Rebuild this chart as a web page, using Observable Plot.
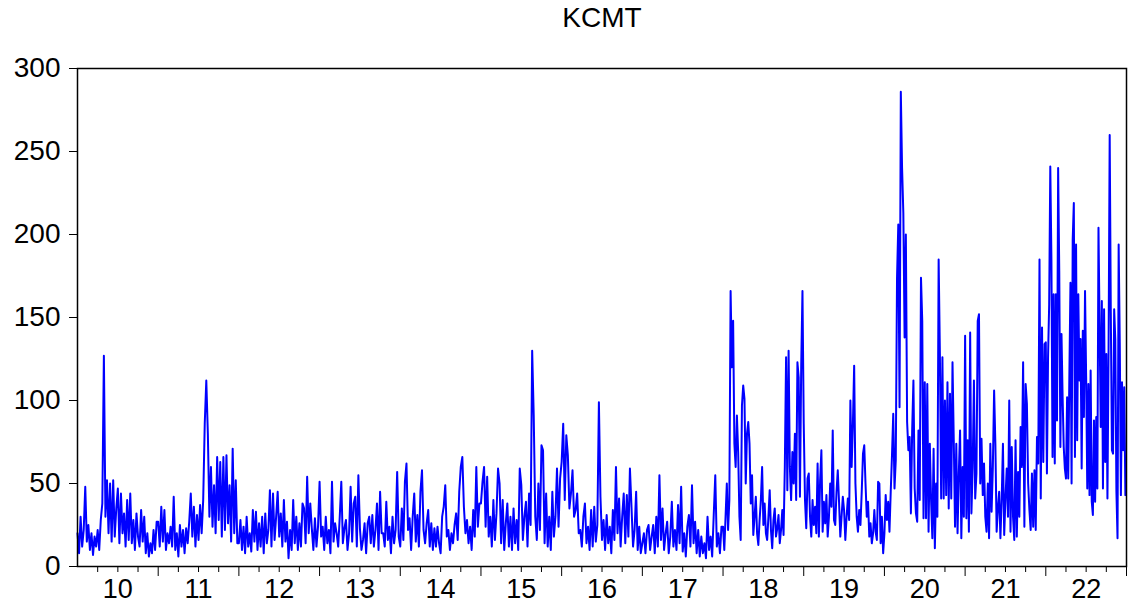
<!DOCTYPE html>
<html>
<head>
<meta charset="utf-8">
<script src="https://cdn.jsdelivr.net/npm/d3@7"></script>
<script src="https://cdn.jsdelivr.net/npm/@observablehq/plot@0.6"></script>
<style>
  html, body { margin: 0; padding: 0; background: #ffffff; }
  #chart { width: 1130px; height: 610px; }
</style>
</head>
<body>
<div id="chart"></div>
<script>
const title = "KCMT";
const years = [2010, 2011, 2012, 2013, 2014, 2015, 2016, 2017, 2018, 2019, 2020, 2021, 2022];
const yearLabels = ["10", "11", "12", "13", "14", "15", "16", "17", "18", "19", "20", "21", "22"];
const yTicks = [0, 50, 100, 150, 200, 250, 300];

const v2010 = [20, 8, 30, 12, 22, 48, 15, 25, 10, 20, 7, 18, 12, 22, 10, 28, 38, 127, 30, 52, 20, 50, 15, 52, 18, 35, 47, 14, 44, 20, 32, 12, 40, 16, 44, 14, 28, 10, 32, 18, 12, 34, 15, 30, 8, 20, 6, 14, 8, 22, 10, 27];
const v2011 = [27, 12, 36, 15, 34, 10, 20, 14, 24, 12, 42, 10, 20, 6, 25, 12, 22, 8, 23, 14, 27, 44, 18, 36, 12, 31, 16, 37, 20, 40, 86, 112, 80, 30, 60, 24, 49, 20, 66, 28, 63, 18, 66, 22, 67, 26, 49, 15, 71, 20, 52, 14];
const v2012 = [14, 28, 10, 24, 8, 30, 12, 20, 9, 34, 15, 33, 10, 26, 12, 30, 8, 32, 14, 22, 46, 12, 44, 16, 30, 45, 18, 32, 12, 40, 15, 27, 5, 22, 10, 40, 14, 30, 10, 26, 12, 38, 35, 14, 54, 20, 38, 23, 10, 29, 12, 24];
const v2013 = [51, 18, 24, 10, 30, 14, 22, 8, 51, 15, 26, 20, 12, 30, 51, 14, 23, 28, 10, 20, 48, 15, 38, 42, 12, 55, 23, 10, 16, 26, 8, 26, 30, 14, 31, 12, 22, 38, 10, 45, 20, 20, 12, 39, 16, 24, 8, 30, 14, 22, 57, 18];
const v2014 = [12, 35, 16, 51, 62, 22, 29, 10, 30, 44, 15, 31, 12, 45, 58, 22, 14, 26, 34, 12, 26, 10, 23, 12, 24, 14, 8, 30, 36, 49, 18, 22, 10, 20, 14, 25, 32, 16, 45, 60, 66, 36, 20, 28, 14, 24, 10, 34, 18, 60, 24, 38];
const v2015 = [38, 51, 60, 24, 54, 18, 30, 12, 40, 16, 32, 59, 50, 14, 40, 10, 26, 38, 12, 30, 10, 35, 14, 28, 10, 59, 49, 16, 30, 39, 12, 44, 25, 130, 91, 30, 16, 50, 22, 73, 70, 14, 44, 12, 30, 10, 45, 18, 30, 59, 24, 53];
const v2016 = [63, 86, 40, 79, 67, 35, 44, 58, 30, 34, 44, 20, 22, 12, 30, 38, 14, 24, 10, 34, 12, 36, 15, 25, 99, 42, 16, 28, 10, 31, 14, 24, 8, 34, 16, 60, 20, 41, 12, 30, 44, 14, 43, 18, 59, 36, 12, 22, 45, 10, 24, 8];
const v2017 = [14, 20, 8, 22, 25, 10, 18, 25, 8, 30, 12, 55, 16, 35, 10, 20, 27, 8, 18, 39, 12, 22, 10, 37, 14, 48, 9, 20, 6, 24, 31, 12, 49, 14, 27, 8, 22, 6, 18, 8, 14, 5, 30, 10, 18, 6, 31, 55, 12, 20, 8, 24];
const v2018 = [24, 10, 30, 50, 22, 40, 166, 120, 148, 74, 60, 91, 69, 30, 16, 97, 109, 101, 50, 80, 87, 74, 38, 55, 19, 30, 42, 20, 13, 28, 40, 60, 25, 38, 20, 16, 30, 46, 22, 11, 28, 35, 18, 23, 31, 14, 22, 34, 19, 60, 126, 46, 130, 60, 40, 69, 50, 80, 40, 123, 114, 42, 121, 166];
const v2019 = [86, 40, 23, 53, 56, 30, 18, 40, 25, 36, 20, 62, 18, 52, 70, 21, 39, 26, 43, 18, 30, 50, 36, 82, 28, 25, 45, 58, 39, 18, 30, 42, 34, 16, 30, 41, 28, 100, 60, 86, 121, 50, 30, 21, 34, 25, 45, 68, 73, 50, 30, 39, 18, 26, 14, 20, 34, 21, 16, 51, 50, 14, 30, 8];
const v2020 = [20, 43, 28, 39, 21, 45, 67, 92, 47, 64, 174, 206, 96, 286, 240, 213, 138, 200, 87, 70, 78, 32, 82, 112, 47, 32, 27, 82, 40, 174, 148, 29, 111, 29, 110, 21, 74, 40, 17, 71, 11, 50, 30, 185, 128, 41, 126, 41, 100, 43, 111, 35, 104, 41, 123, 76, 24, 74, 20, 56, 82, 17, 60, 30];
const v2021 = [139, 29, 76, 21, 141, 32, 60, 112, 41, 56, 148, 152, 50, 77, 43, 62, 30, 21, 50, 17, 74, 33, 60, 106, 74, 21, 35, 45, 17, 40, 74, 19, 41, 59, 30, 100, 21, 72, 30, 16, 76, 18, 57, 30, 84, 60, 123, 24, 110, 98, 50, 34, 22, 56, 24, 58, 22, 78, 62, 185, 41, 144, 63, 134];
const v2022 = [135, 56, 126, 158, 241, 185, 66, 164, 62, 164, 88, 240, 178, 72, 140, 102, 72, 59, 53, 102, 53, 114, 171, 50, 197, 219, 66, 194, 76, 164, 112, 137, 59, 142, 90, 166, 114, 47, 110, 43, 118, 39, 31, 88, 39, 90, 47, 204, 144, 84, 160, 47, 155, 63, 128, 41, 130, 260, 153, 70, 68, 155, 137, 45, 17, 194, 135, 43, 111, 70, 108, 43];

const seriesByYear = [v2010, v2011, v2012, v2013, v2014, v2015, v2016, v2017, v2018, v2019, v2020, v2021, v2022];

// each year's observations are spread evenly over that year
const data = years.flatMap((yr, k) =>
  seriesByYear[k].map((v, i, arr) => ({ t: yr + i / arr.length, v }))
);

const majorTicks = years.slice(1).concat([years[years.length - 1] + 1]);
const minorTicks = years.flatMap(yr => [yr + 0.25, yr + 0.5, yr + 0.75]);
const labelData = years.map((yr, i) => ({ t: yr + 0.5, label: yearLabels[i] }));

const chart = Plot.plot({
  width: 1130,
  height: 610,
  marginLeft: 77,
  marginRight: 4,
  marginTop: 68,
  marginBottom: 44,
  x: { domain: [years[0], years[years.length - 1] + 1], axis: null, label: null },
  y: { domain: [0, 300], axis: null, label: null },
  style: { fontFamily: "'Liberation Sans', Arial, sans-serif", background: "#ffffff", color: "#000000" },
  marks: [
    Plot.line(data, { x: "t", y: "v", stroke: "#0000ff", strokeWidth: 2 }),
    Plot.frame({ stroke: "#000000", strokeWidth: 1.5 }),
    Plot.axisY({ ticks: yTicks, tickSize: 8, tickPadding: 9, fontSize: 28, label: null, tickFormat: d => String(d), stroke: "#000000" }),
    Plot.axisX({ ticks: majorTicks, tickSize: 10, label: null, tickFormat: () => "", stroke: "#000000" }),
    Plot.axisX({ ticks: minorTicks, tickSize: 6, label: null, tickFormat: () => "", stroke: "#000000" }),
    Plot.text(labelData, { x: "t", text: "label", frameAnchor: "bottom", dy: 23, fontSize: 27, lineAnchor: "middle", fill: "#000000" }),
    Plot.text([title], { frameAnchor: "top", dy: -50, fontSize: 28, lineAnchor: "middle", fill: "#000000" })
  ]
});

document.getElementById("chart").appendChild(chart);
</script>
</body>
</html>
